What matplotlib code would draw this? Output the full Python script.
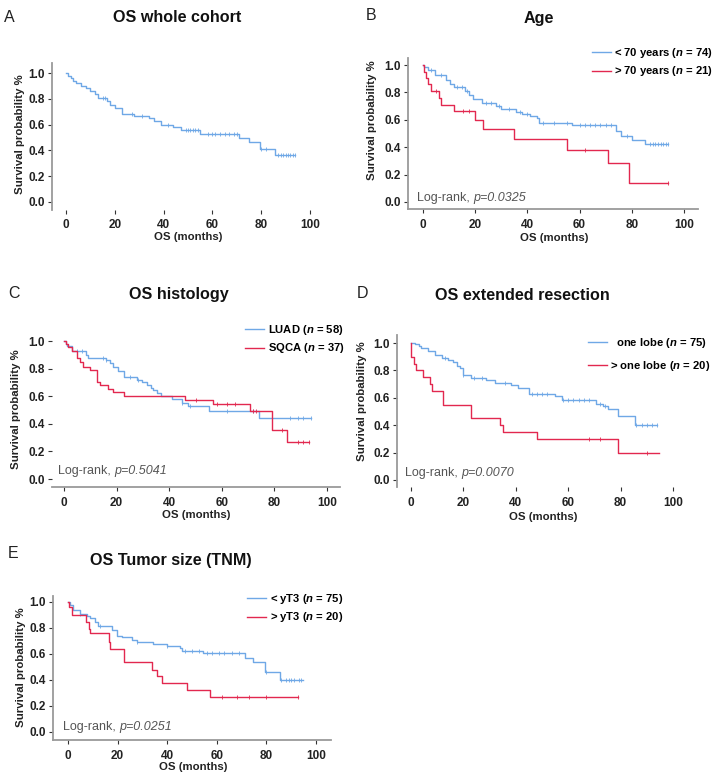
import numpy as np
import matplotlib
matplotlib.use("Agg")
import matplotlib.pyplot as plt

plt.rcParams['font.family'] = ['Liberation Sans', 'DejaVu Sans']
plt.rcParams['mathtext.fontset'] = 'custom'
plt.rcParams['mathtext.it'] = 'Liberation Sans:italic:bold'
plt.rcParams['mathtext.rm'] = 'Liberation Sans:bold'

W, H = 719, 779
BLUE = '#6fa8e6'
RED = '#e2284f'

# ---- data (months, survival) ----
A_t = [0, 1, 2, 3, 4, 6, 8, 10, 12, 13, 17, 18, 20, 23, 28, 34, 36, 39, 44, 47, 55, 71, 75, 79.5, 85.5]
A_s = [1.0, 0.98, 0.96, 0.94, 0.92, 0.90, 0.88, 0.86, 0.84, 0.805, 0.78, 0.755, 0.725, 0.685, 0.665, 0.65,
       0.625, 0.60, 0.585, 0.56, 0.525, 0.50, 0.465, 0.41, 0.365]
A_end = 94
A_cens = [15, 16, 27, 31, 42, 49, 50, 51, 52, 53, 54, 58, 60, 61, 63, 65, 67, 69, 70, 80, 82,
          87, 88, 89, 90, 91, 92, 93, 94]

B1_t = [0, 0.5, 2, 4.5, 9, 10.5, 12, 16, 17.5, 19, 22.5, 28, 30, 35.7, 38, 41, 43.5, 44.5, 57, 74, 76, 80, 85]
B1_s = [1.0, 0.985, 0.96, 0.93, 0.89, 0.86, 0.84, 0.81, 0.78, 0.75, 0.72, 0.70, 0.68, 0.66, 0.645, 0.63,
        0.61, 0.58, 0.56, 0.52, 0.48, 0.455, 0.425]
B1_end = 94
B1_cens = [3, 7, 13, 15, 17, 24, 26, 29, 33, 37, 40, 46, 50, 55, 60, 62, 64, 66, 68, 70, 72, 78,
           87, 88, 89, 90, 91, 92, 93, 94]
B2_t = [0, 0.5, 1, 2, 3, 6, 7, 12, 20, 23, 35, 55, 71, 79]
B2_s = [1.0, 0.95, 0.905, 0.86, 0.81, 0.76, 0.71, 0.665, 0.60, 0.535, 0.46, 0.38, 0.285, 0.14]
B2_end = 94
B2_cens = [5, 15.5, 17.5, 62, 94]

C1_t = [0, 0.6, 1.3, 3, 8.3, 9, 16, 17.4, 18.6, 20.6, 22.7, 27.6, 29.5, 31.4, 33, 34, 35.2, 37, 41,
        44.7, 47, 55, 74]
C1_s = [1.0, 0.98, 0.965, 0.93, 0.90, 0.88, 0.86, 0.84, 0.81, 0.78, 0.74, 0.72, 0.70, 0.68, 0.66,
        0.645, 0.62, 0.60, 0.58, 0.55, 0.53, 0.495, 0.44]
C1_end = 94
C1_cens = [5, 7, 15, 16, 25, 28, 45, 48, 62, 72, 86, 89, 91, 94]
C2_t = [0, 0.7, 1.5, 3, 4.8, 6, 7.4, 10, 12.4, 13.7, 16.9, 18.8, 23, 46, 56.8, 70.7, 79, 84.7]
C2_s = [1.0, 0.975, 0.96, 0.93, 0.875, 0.85, 0.815, 0.79, 0.705, 0.68, 0.65, 0.63, 0.60, 0.57, 0.54,
        0.49, 0.355, 0.265]
C2_end = 93
C2_cens = [50, 58, 62, 65, 72, 73, 83, 89, 91, 93]

D1_t = [0, 1.5, 3, 4, 6.6, 9, 11.7, 14, 16, 17.5, 18.7, 20, 23, 28.5, 32, 38, 41, 45, 55, 57.5, 70.7,
        73.4, 75, 79, 85.4]
D1_s = [1.0, 0.99, 0.975, 0.96, 0.94, 0.915, 0.89, 0.875, 0.86, 0.835, 0.815, 0.77, 0.745, 0.73, 0.71,
        0.69, 0.675, 0.63, 0.61, 0.585, 0.555, 0.54, 0.515, 0.465, 0.40]
D1_end = 94
D1_cens = [13, 20, 24, 27, 36, 46, 48, 50, 52, 58, 60, 62, 64, 66, 68, 72, 74, 86, 88, 90, 92, 94]
D2_t = [0, 0.1, 1, 2, 4.5, 7.2, 8, 12.3, 23, 34, 35, 48, 79]
D2_s = [1.0, 0.90, 0.85, 0.80, 0.75, 0.70, 0.65, 0.55, 0.45, 0.40, 0.35, 0.30, 0.20]
D2_end = 94.5
D2_cens = [68, 72, 90]

E1_t = [0, 0.8, 2, 5, 7.5, 9, 11, 12, 17.6, 19.6, 21.6, 25.7, 28, 34.4, 40, 45, 46, 54.6, 71.5, 74.5,
        79.4, 85.5]
E1_s = [1.0, 0.98, 0.94, 0.91, 0.895, 0.88, 0.85, 0.815, 0.785, 0.74, 0.73, 0.71, 0.695, 0.68, 0.66,
        0.645, 0.62, 0.605, 0.57, 0.535, 0.465, 0.40]
E1_end = 94.6
E1_cens = [5, 13, 28, 40, 47, 50, 53, 56, 58, 61, 63, 66, 69, 80, 86, 88, 89, 90, 91, 93, 94]
E2_t = [0, 0.5, 1.6, 7.3, 8.6, 8.9, 16.7, 17, 22.6, 33.7, 35.8, 37.8, 47.8, 57.3]
E2_s = [1.0, 0.96, 0.90, 0.85, 0.79, 0.76, 0.69, 0.64, 0.54, 0.48, 0.43, 0.375, 0.32, 0.27]
E2_end = 92.9
E2_cens = [62, 68, 73, 80, 92.9]

titles = ['OS whole cohort', 'Age', 'OS histology', 'OS extended resection', 'OS Tumor size (TNM)']
letters = ['A', 'B', 'C', 'D', 'E']
legend_labels = [
    None,
    ['< 70 years ($\\mathit{n}$ = 74)', '> 70 years ($\\mathit{n}$ = 21)'],
    ['LUAD ($\\mathit{n}$ = 58)', 'SQCA ($\\mathit{n}$ = 37)'],
    ['  one lobe ($\\mathit{n}$ = 75)', '> one lobe ($\\mathit{n}$ = 20)'],
    ['< yT3 ($\\mathit{n}$ = 75)', '> yT3 ($\\mathit{n}$ = 20)'],
]
pvalues = [None, 'p=0.0325', 'p=0.5041', 'p=0.0070', 'p=0.0251']
xticks = [0, 20, 40, 60, 80, 100]
yticks = [0.0, 0.2, 0.4, 0.6, 0.8, 1.0]

curves = [
    [(A_t, A_s, A_end, A_cens, BLUE)],
    [(B1_t, B1_s, B1_end, B1_cens, BLUE), (B2_t, B2_s, B2_end, B2_cens, RED)],
    [(C1_t, C1_s, C1_end, C1_cens, BLUE), (C2_t, C2_s, C2_end, C2_cens, RED)],
    [(D1_t, D1_s, D1_end, D1_cens, BLUE), (D2_t, D2_s, D2_end, D2_cens, RED)],
    [(E1_t, E1_s, E1_end, E1_cens, BLUE), (E2_t, E2_s, E2_end, E2_cens, RED)],
]

# ---- layout (pixel positions) ----
# x of month 0, x of month 100, y of 1.0, y of 0.0, xlim, ylim, spines shown
panels = [
    (66, 310, 73, 202, (-5.7, 102), (-0.06, 1.08), ['left']),
    (423, 684, 65, 202, (-5.7, 105.5), (-0.05, 1.05), ['left', 'bottom']),
    (64, 327, 341, 479, (-4.6, 105), (-0.058, 1.05), ['bottom']),
    (411, 673, 343, 480, (-5.3, 102), (-0.05, 1.06), ['left']),
    (68, 316, 602, 732, (-6, 106), (-0.06, 1.05), ['left', 'bottom']),
]
title_pos = [(177, 18), (539, 19), (179, 295), (522, 296), (171, 560)]
letter_pos = [(4, 17), (366, 15), (8, 293), (357, 293), (8, 554)]
ylabel_pos = [(20, 134), (372, 120), (16, 409), (362, 401), (21, 667)]
xlabel_pos = [(188, 237), (554, 238), (196, 515), (543, 517), (193, 767)]
logrank_pos = [None, (417, 198), (58, 471), (405, 473), (63, 727)]
legend_pos = [None, (592, 46, 0.4), (245, 323, 0.4), (588, 336, 0.76), (247, 592, 0.4)]


def fig_xy(px, py):
    return px / W, 1 - py / H


fig = plt.figure(figsize=(W / 100, H / 100), dpi=100)

for i, (x0, x100, y1, y0, xl, yl, sp) in enumerate(panels):
    pxx = (x100 - x0) / 100.0
    pxy = (y0 - y1)
    left = x0 + xl[0] * pxx
    right = x0 + xl[1] * pxx
    top = y0 - yl[1] * pxy
    bottom = y0 - yl[0] * pxy
    ax = fig.add_axes([left / W, 1 - bottom / H, (right - left) / W, (bottom - top) / H])
    ax.set_xlim(*xl)
    ax.set_ylim(*yl)
    ax.patch.set_alpha(0)

    handles = []
    for t, s, end, cens, col in curves[i]:
        tt = list(t) + [end]
        ss = list(s) + [s[-1]]
        h, = ax.step(tt, ss, where='post', color=col, lw=1.0)
        idx = np.searchsorted(t, cens, side='right') - 1
        ax.plot(cens, np.array(s)[idx], ls='none', marker='|', ms=2.8, mew=0.6, color=col)
        handles.append(h)

    for side in ['left', 'right', 'top', 'bottom']:
        if side in sp:
            ax.spines[side].set_color('#9a9a9a')
            ax.spines[side].set_linewidth(1.3)
        else:
            ax.spines[side].set_visible(False)

    ax.set_xticks(xticks)
    ax.set_yticks(yticks)
    ax.set_yticklabels(['%.1f' % v for v in yticks])
    ax.tick_params(axis='both', labelsize=8.5, colors='#333333', length=3, width=0.8, pad=2)
    ax.tick_params(axis='x', pad=4)
    for lab in ax.get_xticklabels() + ax.get_yticklabels():
        lab.set_fontweight('bold')
        lab.set_color('#222222')

    if legend_labels[i] is not None:
        lx, ly, sp_ = legend_pos[i]
        ax.legend(handles, legend_labels[i], loc='upper left',
                  bbox_to_anchor=fig_xy(lx, ly), bbox_transform=fig.transFigure,
                  frameon=False, handlelength=1.7, handletextpad=0.3,
                  labelspacing=sp_, borderpad=0, borderaxespad=0,
                  prop={'weight': 'bold', 'size': 8.1})

    fig.text(*fig_xy(*title_pos[i]), titles[i], ha='center', va='center',
             fontsize=11.6, fontweight='bold', color='#111111')
    fig.text(*fig_xy(*letter_pos[i]), letters[i], ha='left', va='center',
             fontsize=11.5, color='#222222')
    fig.text(*fig_xy(*ylabel_pos[i]), 'Survival probability %', rotation=90,
             ha='center', va='center', fontsize=8.2, fontweight='bold', color='#222222')
    fig.text(*fig_xy(*xlabel_pos[i]), 'OS (months)', ha='center', va='center',
             fontsize=8.2, fontweight='bold', color='#222222')

    if pvalues[i] is not None:
        t1 = fig.text(*fig_xy(*logrank_pos[i]), 'Log-rank, ', ha='left', va='center',
                      fontsize=9, color='#555555')
        ax.annotate(pvalues[i], xy=(1, 0.5), xycoords=t1, ha='left', va='center',
                    fontsize=9, color='#555555', fontstyle='italic')

fig.savefig('out.png', dpi=100)
